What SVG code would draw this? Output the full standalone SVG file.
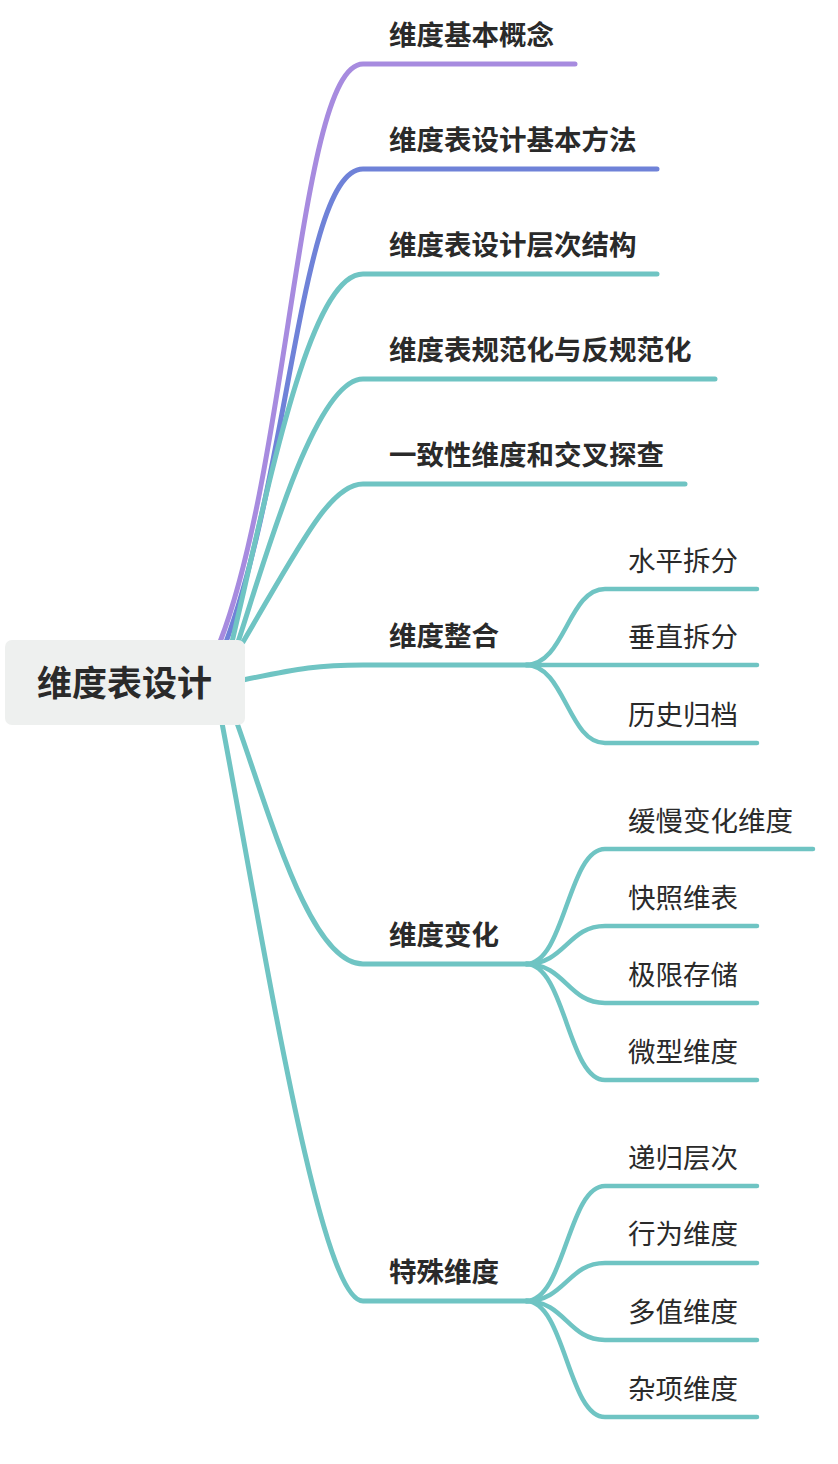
<svg xmlns="http://www.w3.org/2000/svg" width="838" height="1464" viewBox="0 0 838 1464">
<style>
.c{fill:none;stroke-linecap:round;stroke-linejoin:round}
.l1{stroke-width:5}
.l2{stroke-width:4.5}
.p{stroke:#A78BDF}
.b{stroke:#6F82D8}
.t{stroke:#6FC4C3}
.txt{font-family:"Noto Sans CJK SC","Noto Sans",sans-serif;fill:#2A2A2A}
.t1{font-size:27.5px;font-weight:bold}
.t2{font-size:27.5px;font-weight:normal}
.t0{font-size:35px;font-weight:bold}
</style>
<rect width="838" height="1464" fill="#FFFFFF"/>
<g id="connectors">
<path class="c l1 p" d="M220,642 C290,460 300,64 363,64 L575,64"/>
<path class="c l1 b" d="M226,642 C290,470 302,169 363,169 L657,169"/>
<path class="c l1 t" d="M232,642 C270,480 310,274 363,274 L657,274"/>
<path class="c l1 t" d="M238,642 C265,560 315,379 363,379 L715,379"/>
<path class="c l1 t" d="M243,642 C300,545 330,484 363,484 L685,484"/>
<path class="c l1 t" d="M243,680 C300,668 320,665 363,665 L528,665"/>
<path class="c l1 t" d="M237,723 C270,815 310,964 363,964 L528,964"/>
<path class="c l1 t" d="M222,723 C265,950 320,1301 363,1301 L528,1301"/>
<path class="c l2 t" d="M526,665 C565,665 568,589 605,589 L757,589"/>
<path class="c l2 t" d="M526,665 L757,665"/>
<path class="c l2 t" d="M526,665 C565,665 568,743 605,743 L757,743"/>
<path class="c l2 t" d="M526,964 C565,964 568,849 605,849 L813,849"/>
<path class="c l2 t" d="M526,964 C565,964 568,926 605,926 L757,926"/>
<path class="c l2 t" d="M526,964 C565,964 568,1003 605,1003 L757,1003"/>
<path class="c l2 t" d="M526,964 C565,964 568,1080 605,1080 L757,1080"/>
<path class="c l2 t" d="M526,1301 C565,1301 568,1186 605,1186 L757,1186"/>
<path class="c l2 t" d="M526,1301 C565,1301 568,1263 605,1263 L757,1263"/>
<path class="c l2 t" d="M526,1301 C565,1301 568,1340 605,1340 L757,1340"/>
<path class="c l2 t" d="M526,1301 C565,1301 568,1417 605,1417 L757,1417"/>
</g>
<g id="root">
<rect x="5" y="640" width="240" height="85" rx="7" fill="#EEF0EF"/>
<text class="txt t0" x="37" y="696">维度表设计</text>
</g>
<g id="n1"><text class="txt t1" x="389" y="45">维度基本概念</text></g>
<g id="n2"><text class="txt t1" x="389" y="150">维度表设计基本方法</text></g>
<g id="n3"><text class="txt t1" x="389" y="255">维度表设计层次结构</text></g>
<g id="n4"><text class="txt t1" x="389" y="360">维度表规范化与反规范化</text></g>
<g id="n5"><text class="txt t1" x="389" y="465">一致性维度和交叉探查</text></g>
<g id="n6"><text class="txt t1" x="389" y="646">维度整合</text></g>
<g id="n7"><text class="txt t1" x="389" y="945">维度变化</text></g>
<g id="n8"><text class="txt t1" x="389" y="1282">特殊维度</text></g>
<g id="n6a"><text class="txt t2" x="628" y="571">水平拆分</text></g>
<g id="n6b"><text class="txt t2" x="628" y="647">垂直拆分</text></g>
<g id="n6c"><text class="txt t2" x="628" y="725">历史归档</text></g>
<g id="n7a"><text class="txt t2" x="628" y="831">缓慢变化维度</text></g>
<g id="n7b"><text class="txt t2" x="628" y="908">快照维表</text></g>
<g id="n7c"><text class="txt t2" x="628" y="985">极限存储</text></g>
<g id="n7d"><text class="txt t2" x="628" y="1062">微型维度</text></g>
<g id="n8a"><text class="txt t2" x="628" y="1168">递归层次</text></g>
<g id="n8b"><text class="txt t2" x="628" y="1244">行为维度</text></g>
<g id="n8c"><text class="txt t2" x="628" y="1322">多值维度</text></g>
<g id="n8d"><text class="txt t2" x="628" y="1399">杂项维度</text></g>
</svg>
